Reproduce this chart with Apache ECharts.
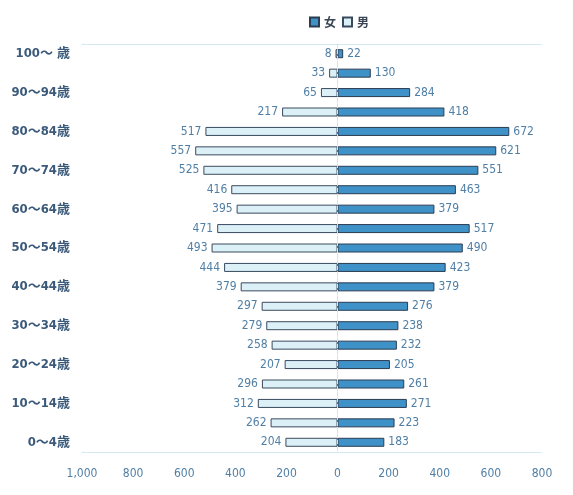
<!DOCTYPE html>
<html><head><meta charset="utf-8">
<script src="https://cdn.jsdelivr.net/npm/echarts@6/dist/echarts.min.js"></script>
<style>html,body{margin:0;padding:0;background:#fff;}#c{width:573px;height:495px;}</style>
</head><body><div id="c"></div>
<script>
const categories = ['100～ 歳','95～99歳','90～94歳','85～89歳','80～84歳','75～79歳','70～74歳','65～69歳','60～64歳','55～59歳','50～54歳','45～49歳','40～44歳','35～39歳','30～34歳','25～29歳','20～24歳','15～19歳','10～14歳','5～9歳','0～4歳'];
const male = [8,33,65,217,517,557,525,416,395,471,493,444,379,297,279,258,207,296,312,262,204];
const female = [22,130,284,418,672,621,551,463,379,517,490,423,379,276,238,232,205,261,271,223,183];

const chart = echarts.init(document.getElementById('c'));
const fontNum = '"Liberation Sans Narrow","DejaVu Sans Condensed","Noto Sans CJK JP",sans-serif';
const numColor = '#4f7fa6';
chart.setOption({
  animation:false,
  legend:{
    top:11, left:304, itemGap:6, itemWidth:9, itemHeight:9,
    icon:'rect',
    textStyle:{color:'#3a4656', fontSize:12, fontWeight:'bold', fontFamily:'"Noto Sans CJK JP",sans-serif'},
    data:['女','男']
  },
  grid:{left:82, right:31, top:44, bottom:43},
  xAxis:[{
    type:'value', min:-1000, max:800, interval:200,
    axisLine:{show:true, lineStyle:{color:'#cfe3ee', type:'dotted'}},
    axisTick:{show:false},
    splitLine:{show:false},
    axisLabel:{color:numColor, fontSize:12, margin:16, fontFamily:fontNum,
      formatter:v=>{const a=Math.abs(v);return a>=1000?'1,000':String(a);}}
  },{
    type:'value', position:'top', min:-1000, max:800,
    axisLine:{show:true, lineStyle:{color:'#cfe3ee', type:'dotted'}},
    axisTick:{show:false}, axisLabel:{show:false}, splitLine:{show:false}
  }],
  yAxis:{
    type:'category', data:categories, inverse:true,
    axisLine:{show:true, lineStyle:{color:'#d6e8f1', type:'dotted'}},
    axisTick:{show:false},
    axisLabel:{interval:1, color:'#3b5a7a', fontSize:13, fontWeight:'bold', margin:12,
      fontFamily:'"DejaVu Sans Condensed","Noto Sans CJK JP",sans-serif'}
  },
  series:[
    {
      name:'男', type:'bar', stack:'p', barWidth:9,
      data:male.map(v=>-v),
      itemStyle:{color:'#dcf0f8', borderColor:'#3a4a5e', borderWidth:1},
      label:{show:true, position:'left', distance:4, color:numColor, fontSize:12, fontFamily:fontNum,
        formatter:p=>Math.abs(p.value)}
    },
    {
      name:'女', type:'bar', stack:'p', barWidth:9,
      data:female,
      itemStyle:{color:'#3f92c8', borderColor:'#2a3c52', borderWidth:1},
      label:{show:true, position:'right', distance:4, color:numColor, fontSize:12, fontFamily:fontNum},
      markLine:{silent:true, symbol:'none', label:{show:false},
        lineStyle:{color:'#d0e2ec', type:'dashed', width:1},
        data:[{xAxis:0}]}
    }
  ]
});
</script></body></html>
